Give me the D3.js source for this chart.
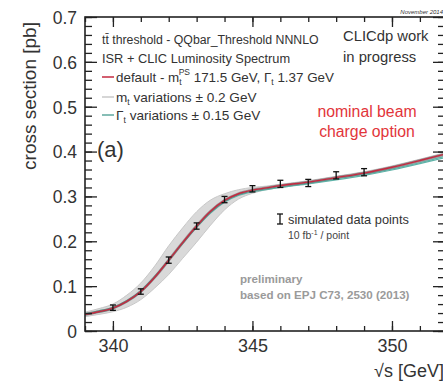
<!DOCTYPE html>
<html><head><meta charset="utf-8">
<script src="https://cdn.jsdelivr.net/npm/d3@7"></script>
<style>
body{margin:0;background:#fff;}
svg{display:block;}
text{font-family:"Liberation Sans",Arial,Helvetica,sans-serif;}
</style></head>
<body>
<svg id="c" width="443" height="383"></svg>
<script>
// ---- data ----
const energy = [339, 339.5, 340, 340.5, 341, 341.5, 342, 342.5, 343, 343.5, 344, 344.5, 345, 345.5, 346, 347, 348, 349, 350, 351, 352];
const xsecDefault = [0.037, 0.043, 0.051, 0.066, 0.088, 0.120, 0.158, 0.197, 0.234, 0.267, 0.291, 0.306, 0.314, 0.319, 0.324, 0.332, 0.342, 0.352, 0.365, 0.380, 0.396];
const mtBandLow = [0.032, 0.037, 0.043, 0.053, 0.070, 0.096, 0.126, 0.162, 0.198, 0.236, 0.270, 0.294, 0.307, 0.315, 0.320, 0.329, 0.339, 0.349, 0.361, 0.376, 0.392];
const mtBandHigh = [0.042, 0.050, 0.060, 0.080, 0.107, 0.145, 0.190, 0.230, 0.266, 0.292, 0.306, 0.315, 0.320, 0.323, 0.327, 0.335, 0.345, 0.355, 0.368, 0.383, 0.399];
const gammaLow = [0.036, 0.042, 0.050, 0.065, 0.087, 0.119, 0.157, 0.195, 0.231, 0.263, 0.287, 0.302, 0.310, 0.315, 0.320, 0.328, 0.337, 0.347, 0.359, 0.373, 0.388];
const gammaHigh = [0.039, 0.045, 0.053, 0.068, 0.090, 0.122, 0.159, 0.197, 0.233, 0.265, 0.289, 0.304, 0.312, 0.317, 0.321, 0.329, 0.339, 0.349, 0.361, 0.375, 0.391];
const dataEnergy = [340, 341, 342, 343, 344, 345, 346, 347, 348, 349];
const dataXsec = [0.052, 0.088, 0.158, 0.234, 0.293, 0.317, 0.328, 0.330, 0.347, 0.354];
const dataErr = [0.006, 0.006, 0.007, 0.007, 0.007, 0.007, 0.008, 0.008, 0.008, 0.008];
const xMajorTicks = [340, 345, 350];
const xMinorTicks = [339, 340, 341, 342, 343, 344, 345, 346, 347, 348, 349, 350, 351];
const yMajorTicks = [0, 0.1, 0.2, 0.3, 0.4, 0.5, 0.6, 0.7];
const yTickLabels = ["0", "0.1", "0.2", "0.3", "0.4", "0.5", "0.6", "0.7"];
const yMinorTicks = d3.range(0, 36).map(i => +(i * 0.02).toFixed(2));

// ---- layout ----
const L = 85, R = 445, T = 17, B = 331;
const x = d3.scaleLinear().domain([339, 351.9]).range([L, R]);
const y = d3.scaleLinear().domain([0, 0.7]).range([B, T]);
const svg = d3.select("#c");

svg.append("defs").append("clipPath").attr("id", "clip")
  .append("rect").attr("x", L).attr("y", T).attr("width", R - L).attr("height", B - T);

const plot = svg.append("g").attr("clip-path", "url(#clip)");
const idx = d3.range(energy.length);

// grey band (m_t variations)
plot.append("path")
  .attr("d", d3.area().curve(d3.curveMonotoneX)
    .x(i => x(energy[i])).y0(i => y(mtBandLow[i])).y1(i => y(mtBandHigh[i]))(idx))
  .attr("fill", "#d2d2d2").attr("opacity", 0.85);
[mtBandLow, mtBandHigh].forEach(arr => {
  plot.append("path")
    .attr("d", d3.line().curve(d3.curveMonotoneX).x(i => x(energy[i])).y(i => y(arr[i]))(idx))
    .attr("fill", "none").attr("stroke", "#c8c8c8").attr("stroke-width", 1);
});
// gamma variations (teal)
[gammaLow, gammaHigh].forEach(arr => {
  plot.append("path")
    .attr("d", d3.line().curve(d3.curveMonotoneX).x(i => x(energy[i])).y(i => y(arr[i]))(idx))
    .attr("fill", "none").attr("stroke", "#5fb3a8").attr("stroke-width", 1.2);
});
// default curve
const lineDef = d3.line().curve(d3.curveMonotoneX).x(i => x(energy[i])).y(i => y(xsecDefault[i]));
plot.append("path").attr("d", lineDef(idx)).attr("fill", "none")
  .attr("stroke", "#705a5e").attr("stroke-width", 2.8).attr("opacity", 0.6);
plot.append("path").attr("d", lineDef(idx)).attr("fill", "none")
  .attr("stroke", "#c42a40").attr("stroke-width", 1.4);

// data points
const pts = plot.append("g").attr("stroke", "#111").attr("stroke-width", 1.3);
dataEnergy.forEach((e, i) => {
  const cx = x(e), y1 = y(dataXsec[i] - dataErr[i]), y2 = y(dataXsec[i] + dataErr[i]);
  pts.append("line").attr("x1", cx).attr("x2", cx).attr("y1", y1).attr("y2", y2);
  pts.append("line").attr("x1", cx - 3).attr("x2", cx + 3).attr("y1", y1).attr("y2", y1);
  pts.append("line").attr("x1", cx - 3).attr("x2", cx + 3).attr("y1", y2).attr("y2", y2);
});

// ---- axes ----
function styleAxis(g) {
  g.select(".domain").remove();
  g.selectAll(".tick line").attr("stroke", "#222").attr("stroke-width", 1.3);
}
svg.append("g").attr("transform", `translate(${L},0)`)
  .call(d3.axisLeft(y).tickValues(yMinorTicks).tickSize(-7).tickFormat("")).call(styleAxis);
svg.append("g").attr("transform", `translate(${L},0)`)
  .call(d3.axisLeft(y).tickValues(yMajorTicks).tickSize(-12).tickPadding(8)
    .tickFormat((d, i) => yTickLabels[i])).call(styleAxis)
  .selectAll("text").attr("font-size", 17.5).attr("fill", "#333").attr("dy", "0.36em");
svg.append("g").attr("transform", `translate(${R},0)`)
  .call(d3.axisRight(y).tickValues(yMinorTicks).tickSize(-7).tickFormat("")).call(styleAxis);
svg.append("g").attr("transform", `translate(${R},0)`)
  .call(d3.axisRight(y).tickValues(yMajorTicks).tickSize(-12).tickFormat("")).call(styleAxis);
svg.append("g").attr("transform", `translate(0,${B})`)
  .call(d3.axisBottom(x).tickValues(xMinorTicks).tickSize(-5).tickFormat("")).call(styleAxis);
svg.append("g").attr("transform", `translate(0,${B})`)
  .call(d3.axisBottom(x).tickValues(xMajorTicks).tickSize(-10).tickPadding(8).tickFormat(d3.format("d")))
  .call(styleAxis)
  .selectAll("text").attr("font-size", 18).attr("fill", "#333");
svg.append("g").attr("transform", `translate(0,${T})`)
  .call(d3.axisTop(x).tickValues(xMinorTicks).tickSize(-5).tickFormat("")).call(styleAxis);
svg.append("g").attr("transform", `translate(0,${T})`)
  .call(d3.axisTop(x).tickValues(xMajorTicks).tickSize(-10).tickFormat("")).call(styleAxis);

svg.append("rect").attr("x", L).attr("y", T).attr("width", R - L).attr("height", B - T)
  .attr("fill", "none").attr("stroke", "#222").attr("stroke-width", 1.6);

// ---- titles ----
svg.append("text").attr("transform", "translate(36,96) rotate(-90)")
  .attr("text-anchor", "middle").attr("font-size", 19).attr("fill", "#333")
  .text("cross section [pb]");
svg.append("text").attr("x", 444).attr("y", 377).attr("text-anchor", "end")
  .attr("font-size", 18).attr("fill", "#333").text("\u221As [GeV]");
svg.append("text").attr("x", 97).attr("y", 157).attr("font-size", 22).attr("fill", "#333").text("(a)");
svg.append("text").attr("x", 443).attr("y", 14).attr("text-anchor", "end")
  .attr("font-size", 6).attr("font-style", "italic").attr("fill", "#333").text("November 2014");

// ---- legend ----
const lg = svg.append("g").attr("fill", "#333");
lg.append("text").attr("x", 102).attr("y", 43.5).attr("font-size", 12.3).text("tt\u0304 threshold - QQbar_Threshold NNNLO");
lg.append("text").attr("x", 102).attr("y", 62.5).attr("font-size", 12.8).text("ISR + CLIC Luminosity Spectrum");
lg.append("line").attr("x1", 102).attr("x2", 114).attr("y1", 77).attr("y2", 77)
  .attr("stroke", "#c42a40").attr("stroke-width", 1.5);
const t3 = lg.append("text").attr("x", 116).attr("y", 82).attr("font-size", 13.4);
t3.append("tspan").text("default - m");
t3.append("tspan").attr("font-size", 8.5).attr("dy", 3).text("t");
t3.append("tspan").attr("font-size", 8.5).attr("dy", -10).attr("dx", -3).text("PS");
t3.append("tspan").attr("dy", 7).text(" 171.5 GeV, \u0393");
t3.append("tspan").attr("font-size", 8.5).attr("dy", 3).text("t");
t3.append("tspan").attr("dy", -3).text(" 1.37 GeV");
lg.append("line").attr("x1", 102).attr("x2", 114).attr("y1", 97).attr("y2", 97)
  .attr("stroke", "#c8c8c8").attr("stroke-width", 1.5);
const t4 = lg.append("text").attr("x", 116).attr("y", 102).attr("font-size", 13.6);
t4.append("tspan").text("m");
t4.append("tspan").attr("font-size", 8.5).attr("dy", 3).text("t");
t4.append("tspan").attr("dy", -3).text(" variations \u00B1 0.2 GeV");
lg.append("line").attr("x1", 102).attr("x2", 114).attr("y1", 115).attr("y2", 115)
  .attr("stroke", "#5fa89e").attr("stroke-width", 1.5);
const t5 = lg.append("text").attr("x", 116).attr("y", 120).attr("font-size", 13.6);
t5.append("tspan").text("\u0393");
t5.append("tspan").attr("font-size", 8.5).attr("dy", 3).text("t");
t5.append("tspan").attr("dy", -3).text(" variations \u00B1 0.15 GeV");

// ---- annotations ----
const dv = svg.append("g").style("font-family", "'DejaVu Sans', Verdana, sans-serif");
dv.append("text").attr("x", 343).attr("y", 41).attr("font-size", 14.8).attr("fill", "#333").text("CLICdp work");
dv.append("text").attr("x", 343).attr("y", 62).attr("font-size", 14.8).attr("fill", "#333").text("in progress");
dv.append("text").attr("x", 367).attr("y", 117).attr("font-size", 15.8).attr("text-anchor", "middle").attr("fill", "#e2353a").text("nominal beam");
dv.append("text").attr("x", 367).attr("y", 137).attr("font-size", 15.8).attr("text-anchor", "middle").attr("fill", "#e2353a").text("charge option");

// simulated data points legend
const sg = svg.append("g").attr("stroke", "#111").attr("stroke-width", 1.3);
sg.append("line").attr("x1", 280).attr("x2", 280).attr("y1", 214).attr("y2", 224);
sg.append("line").attr("x1", 277).attr("x2", 283).attr("y1", 214).attr("y2", 214);
sg.append("line").attr("x1", 277).attr("x2", 283).attr("y1", 224).attr("y2", 224);
svg.append("text").attr("x", 288).attr("y", 223.5).attr("font-size", 12.8).attr("fill", "#333").text("simulated data points");
const fb = svg.append("text").attr("x", 288).attr("y", 238.5).attr("font-size", 10.5).attr("fill", "#444");
fb.append("tspan").text("10 fb");
fb.append("tspan").attr("font-size", 7).attr("dy", -3.5).text("-1");
fb.append("tspan").attr("dy", 3.5).text(" / point");

svg.append("text").attr("x", 240).attr("y", 283).attr("font-size", 11.6).attr("font-weight", "bold")
  .attr("fill", "#9a9a9a").text("preliminary");
svg.append("text").attr("x", 240).attr("y", 299).attr("font-size", 11.6).attr("font-weight", "bold")
  .attr("fill", "#9a9a9a").text("based on EPJ C73, 2530 (2013)");
</script>
</body></html>
